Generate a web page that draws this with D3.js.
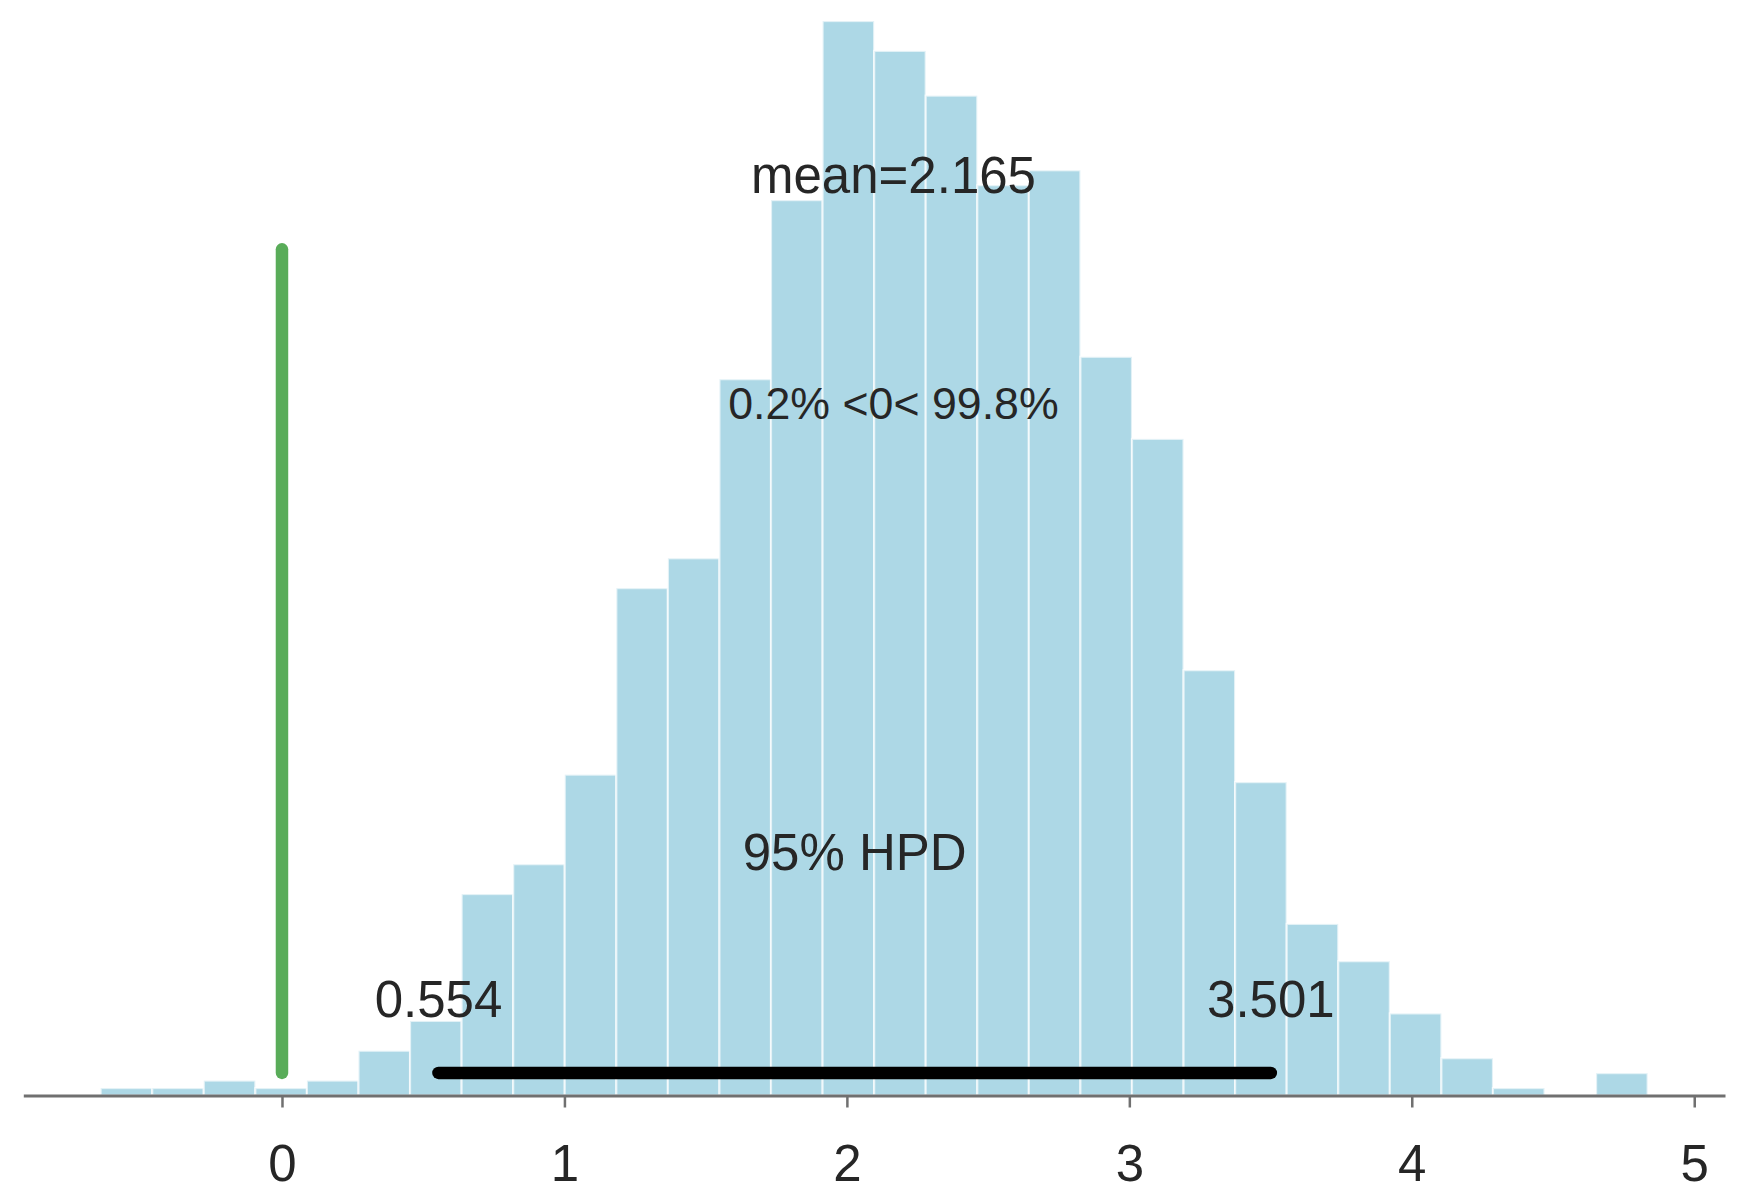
<!DOCTYPE html>
<html>
<head>
<meta charset="utf-8">
<script src="https://cdn.jsdelivr.net/npm/d3@7"></script>
<style>
  html, body { margin: 0; padding: 0; background: #ffffff; }
  svg { display: block; }
  text { font-family: "Liberation Sans", Arial, Helvetica, sans-serif; fill: #262626; }
</style>
</head>
<body>
<svg id="chart" width="1741" height="1192"></svg>
<script>
// Histogram bin edges of the posterior samples (30 equal bins)
const binEdges = [-0.642, -0.4594, -0.2769, -0.0943, 0.0883, 0.2709, 0.4534, 0.6360,
  0.8186, 1.0011, 1.1837, 1.3663, 1.5488, 1.7314, 1.9140, 2.0966, 2.2791, 2.4617,
  2.6443, 2.8268, 3.0094, 3.1920, 3.3745, 3.5571, 3.7397, 3.9223, 4.1048, 4.2874,
  4.4700, 4.6525, 4.8351];

// Sample count in each bin
const binCounts = [1, 1, 2, 1, 2, 6, 10, 27, 31, 43, 68, 72, 96, 120, 144, 140,
  134, 122, 124, 99, 88, 57, 42, 23, 18, 11, 5, 1, 0, 3];

// Summary statistics
const meanValue = 2.165;
const hpdBounds = [0.554, 3.501];
const hpdLabel = "95% HPD";
const refValue = 0;
const refShares = ["0.2%", "99.8%"];

const xTicks = [0, 1, 2, 3, 4, 5];

const svg = d3.select("#chart");

// x limits: data span plus 5% margin on both sides
const span = binEdges[binEdges.length - 1] - binEdges[0];
const x = d3.scaleLinear()
  .domain([binEdges[0] - 0.05 * span, binEdges[binEdges.length - 1] + 0.05 * span])
  .range([23.3, 1725]);

// y limit: tallest bar plus 5% headroom
const plotHeight = 1.05 * d3.max(binCounts);
const y = d3.scaleLinear()
  .domain([0, plotHeight])
  .range([1095.5, -32.7]);

const bins = binCounts.map((c, i) => ({ x0: binEdges[i], x1: binEdges[i + 1], count: c }));

// Bars
svg.append("g")
  .selectAll("rect")
  .data(bins.filter(d => d.count > 0))
  .join("rect")
  .attr("x", d => x(d.x0))
  .attr("y", d => y(d.count))
  .attr("width", d => x(d.x1) - x(d.x0))
  .attr("height", d => y(0) - y(d.count))
  .attr("fill", "#add8e6")
  .attr("stroke", "#ffffff")
  .attr("stroke-opacity", 0.65)
  .attr("stroke-width", 2.2);

// Bottom axis
const axis = svg.append("g")
  .attr("transform", `translate(0,${y(0)})`)
  .call(d3.axisBottom(x).tickValues(xTicks).tickFormat(d3.format("d"))
    .tickSize(12).tickSizeOuter(0).tickPadding(37));
axis.select(".domain").attr("stroke", "#707070").attr("stroke-width", 3);
axis.selectAll(".tick line").attr("stroke", "#707070").attr("stroke-width", 2.5);
axis.selectAll(".tick text")
  .style("font-family", "'Liberation Sans', Arial, sans-serif")
  .style("font-size", "51px")
  .attr("fill", "#262626");

// Reference value line
svg.append("line")
  .attr("x1", x(refValue)).attr("x2", x(refValue))
  .attr("y1", y(0.02 * plotHeight)).attr("y2", y(0.75 * plotHeight))
  .attr("stroke", "rgb(0,128,0)")
  .attr("stroke-opacity", 0.65)
  .attr("stroke-width", 12.5)
  .attr("stroke-linecap", "round");

// HPD interval bar
svg.append("line")
  .attr("x1", x(hpdBounds[0])).attr("x2", x(hpdBounds[1]))
  .attr("y1", y(0.02 * plotHeight)).attr("y2", y(0.02 * plotHeight))
  .attr("stroke", "#000000")
  .attr("stroke-width", 12.5)
  .attr("stroke-linecap", "round");

const labels = svg.append("g").attr("text-anchor", "middle");

labels.append("text")
  .attr("x", x(meanValue)).attr("y", y(0.8 * plotHeight))
  .style("font-size", "51px")
  .text("mean=" + meanValue.toFixed(3));

labels.append("text")
  .attr("x", x(meanValue)).attr("y", y(0.6 * plotHeight))
  .style("font-size", "44.7px")
  .text(`${refShares[0]} <${refValue}< ${refShares[1]}`);

labels.append("text")
  .attr("x", x((hpdBounds[0] + hpdBounds[1]) / 2)).attr("y", y(0.2 * plotHeight))
  .style("font-size", "51px")
  .text(hpdLabel);

labels.selectAll(".hpd-bound")
  .data(hpdBounds)
  .join("text")
  .attr("class", "hpd-bound")
  .attr("x", d => x(d)).attr("y", y(0.07 * plotHeight))
  .style("font-size", "51px")
  .text(d => d.toFixed(3));
</script>
</body>
</html>
